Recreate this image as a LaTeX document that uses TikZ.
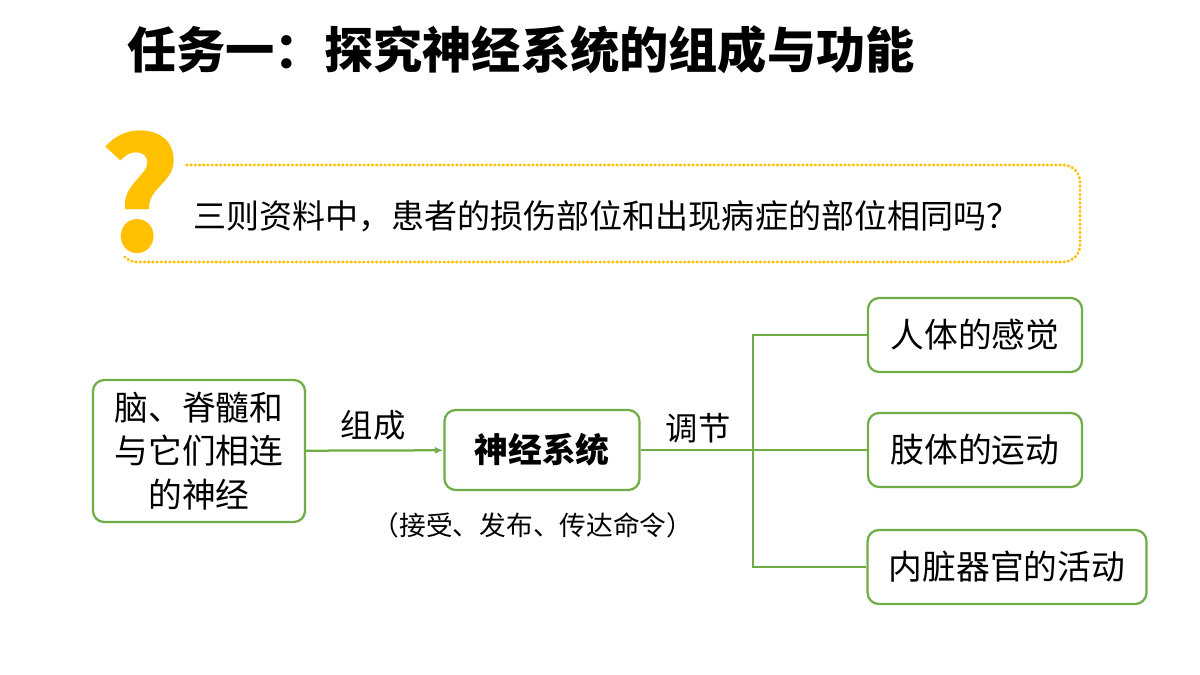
\documentclass[tikz,border=0pt]{standalone}
\usepackage{fontspec}
\setmainfont{Noto Sans CJK SC}
\usetikzlibrary{positioning,arrows.meta}
\definecolor{boxgreen}{HTML}{70AD47}
\definecolor{qorange}{HTML}{FFC000}
\begin{document}
\begin{tikzpicture}[x=0.025cm, y=-0.025cm, thick,
                    green box/.style={draw=boxgreen, line width=1.6pt, rounded corners=8pt, inner sep=0pt, font=\fontsize{24}{28}\selectfont},
                    link/.style={draw=boxgreen, line width=1.6pt},
                    label text/.style={font=\fontsize{23}{28}\selectfont}]
  \useasboundingbox (0,0) rectangle (1200,675);

  \node[font=\fontsize{35}{40}\selectfont\bfseries] (title) at (521,50) {任务一：探究神经系统的组成与功能};

  \draw[qorange, line width=2pt, dash pattern=on 0.5pt off 2.5pt, line cap=round, rounded corners=12pt]
    (120,165) rectangle (1080,262);
  \node[font=\fontsize{110}{110}\selectfont\bfseries, text=qorange, fill=white, inner sep=2pt] (qmark) at (140,192) {?};
  \node[font=\fontsize{23.5}{28}\selectfont, anchor=west] (question) at (188,216) {三则资料中，患者的损伤部位和出现病症的部位相同吗？};

  \node[green box, minimum width=5.3cm, minimum height=3.55cm, align=center] (brain) at (199,451)
    {脑、脊髓和\\[3pt]与它们相连\\[3pt]的神经};
  \node[green box, minimum width=4.875cm, minimum height=2cm, font=\fontsize{24}{28}\selectfont\bfseries] (ns) at (542,450) {神经系统};
  \node[green box, minimum width=5.35cm, minimum height=1.85cm] (sense) at (975,335) {人体的感觉};
  \node[green box, minimum width=5.35cm, minimum height=1.85cm] (limb) at (975,450) {肢体的运动};
  \node[green box, minimum width=6.97cm, minimum height=1.85cm] (organ) at (1007,567) {内脏器官的活动};
  \coordinate (fork) at (753,450);

  \node[label text] (compose) at (373,425) {组成};
  \node[label text] (regulate) at (698,428) {调节};
  \node[font=\fontsize{19}{24}\selectfont] (duty) at (533,525) {（接受、发布、传达命令）};

  \draw[link, -{Latex[length=6pt,width=5pt]}] (brain) -- (ns);
  \draw[link] (ns) -- (fork);
  \draw[link] (sense.west) -| (fork) |- (organ.west);
  \draw[link] (fork) -- (limb);
\end{tikzpicture}
\end{document}
